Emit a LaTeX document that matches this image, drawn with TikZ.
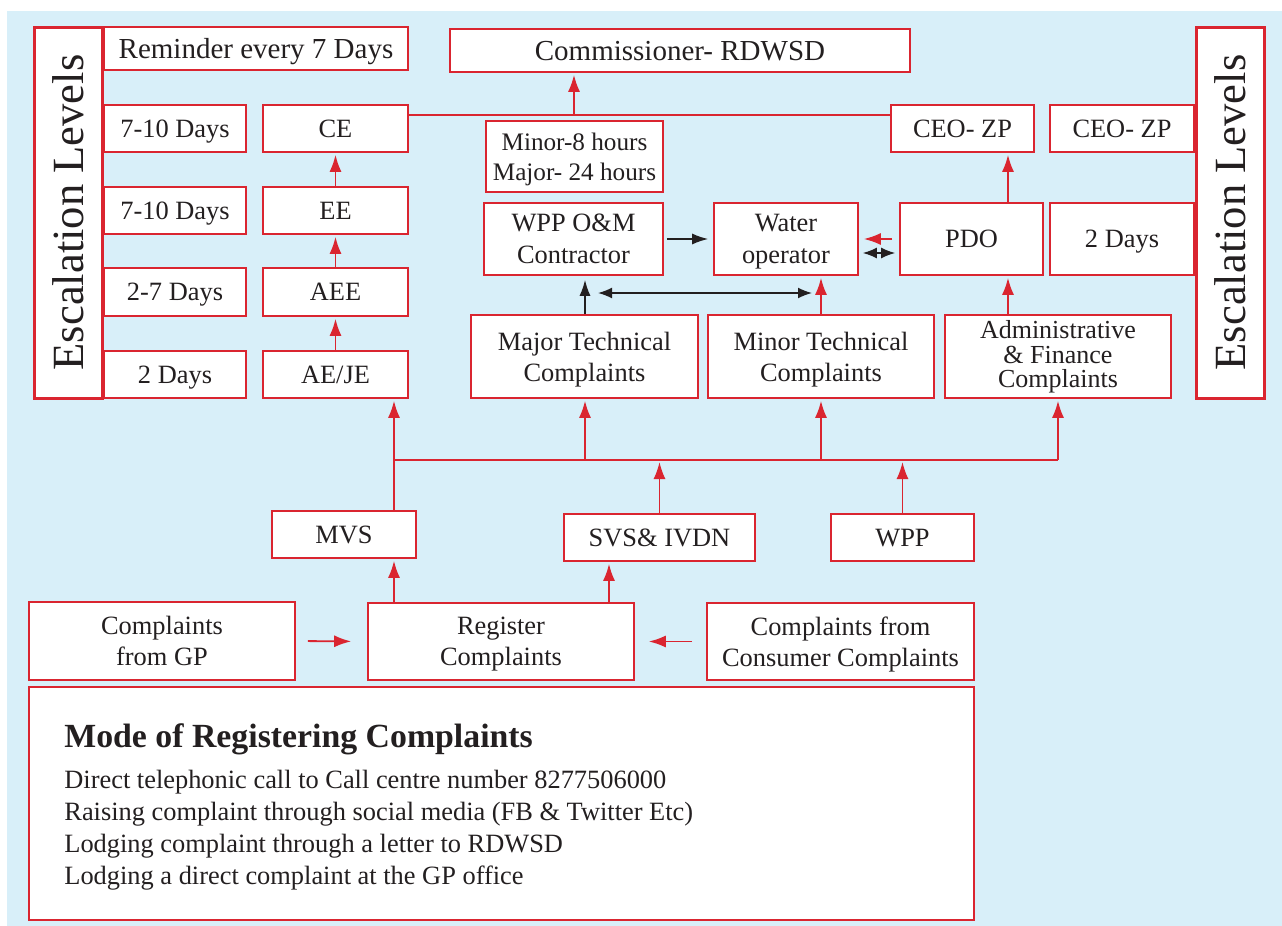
\documentclass[tikz,border=0pt]{standalone}
\usepackage{fontspec}
\setmainfont{Liberation Serif}
\usetikzlibrary{arrows.meta,calc}
\definecolor{bgblue}{RGB}{216,239,249}
\definecolor{bred}{RGB}{218,37,48}
\definecolor{ink}{RGB}{35,31,32}
\tikzset{
  boxst/.style={draw=bred,fill=white,line width=0.8pt,inner sep=0pt,align=center,text=ink,
    text depth=0pt,font=\fontsize{13.2}{15.5}\selectfont},
  escbox/.style={boxst,line width=1.5pt,rotate=90,font=\fontsize{22.3}{26}\selectfont},
  rl/.style={draw=bred,line width=0.9pt},
  ra/.style={rl,-{Latex[length=8.5pt,width=6pt]},shorten >=1pt},
  ka/.style={draw=ink,line width=0.8pt,-{Latex[length=8pt,width=5.5pt]}},
  kd/.style={draw=ink,line width=0.8pt,{Latex[length=7pt,width=5.5pt]}-{Latex[length=7pt,width=5.5pt]}},
  modetxt/.style={anchor=base west,inner sep=0pt,text=ink,font=\fontsize{13.2}{16}\selectfont},
}
% box from corner (x1,y1) to (x2,y2), given in pixel units
\newcommand\pbox[7][]{%
  \node[boxst,#1,minimum width={(#5-#3)*0.5pt},minimum height={(#6-#4)*0.5pt}]
    (#2) at ({(#3+#5)/2},{(#4+#6)/2}) {#7};}
\begin{document}
\begin{tikzpicture}[x=0.5pt,y=-0.5pt]
\useasboundingbox (0,0) rectangle (1282,926);
\fill[bgblue] (7,11) rectangle (1282,926);

% side labels
\node[escbox,minimum width=185.5pt,minimum height=34pt] (escL) at (68,212.5) {Escalation Levels};
\node[escbox,minimum width=185.5pt,minimum height=34pt] (escR) at (1230,212.5) {Escalation Levels};

% left column
\pbox[font=\fontsize{14.5}{17}\selectfont]{rem}{104}{27}{408}{70}{Reminder every 7 Days}
\pbox{d1}{104}{105}{246}{152}{7-10 Days}
\pbox{d2}{104}{187}{246}{234}{7-10 Days}
\pbox{d3}{104}{268}{246}{316}{2-7 Days}
\pbox{d4}{104}{351}{246}{398}{2 Days}
\pbox{ce}{263}{105}{408}{152}{CE}
\pbox{ee}{263}{187}{408}{234}{EE}
\pbox{aee}{263}{268}{408}{316}{AEE}
\pbox{aeje}{263}{351}{408}{398}{AE/JE}

% top row
\pbox[font=\fontsize{14.5}{17}\selectfont]{comm}{450}{29}{910}{72}{Commissioner- RDWSD}
\pbox[font=\fontsize{12.6}{15}\selectfont]{hrs}{486}{121}{663}{192}{Minor-8 hours\\Major- 24 hours}
\pbox{ceo1}{891}{105}{1034}{152}{CEO- ZP}
\pbox{ceo2}{1050}{105}{1194}{152}{CEO- ZP}

% operators
\pbox[font=\fontsize{13.2}{16}\selectfont]{wppom}{484}{203}{663}{275}{WPP O\&M\\Contractor}
\pbox[font=\fontsize{13.2}{16}\selectfont]{water}{714}{203}{858}{275}{Water\\operator}
\pbox{pdo}{900}{203}{1043}{275}{PDO}
\pbox{days2}{1050}{203}{1194}{275}{2 Days}

% complaint types
\pbox{major}{471}{315}{698}{398}{Major Technical\\Complaints}
\pbox{minor}{708}{315}{934}{398}{Minor Technical\\Complaints}
\pbox[font=\fontsize{13}{12.3}\selectfont,text depth=2.5pt]{admin}{945}{315}{1171}{398}{Administrative\\\& Finance\\Complaints}

% sources
\pbox{mvs}{272}{511}{416}{558}{MVS}
\pbox{svs}{564}{514}{755}{561}{SVS\& IVDN}
\pbox{wpp}{831}{514}{974}{561}{WPP}
\pbox{gp}{29}{602}{295}{680}{Complaints\\from GP}
\pbox{reg}{368}{603}{634}{680}{Register\\Complaints}
\pbox{cons}{707}{603}{974}{680}{Complaints from\\Consumer Complaints}
\pbox{mode}{29}{687}{974}{920}{}

% registering modes
\node[modetxt,font=\fontsize{16.9}{20}\selectfont\bfseries] (m0) at (64,747) {Mode of Registering Complaints};
\node[modetxt] (m1) at (64,788) {Direct telephonic call to Call centre number 8277506000};
\node[modetxt] (m2) at (64,820) {Raising complaint through social media (FB \& Twitter Etc)};
\node[modetxt] (m3) at (64,852) {Lodging complaint through a letter to RDWSD};
\node[modetxt] (m4) at (64,884) {Lodging a direct complaint at the GP office};

% helper coordinates
\coordinate (y115) at (0,115);
\coordinate (cj) at (574,115);
\coordinate (x1008) at (1008,0);
\coordinate (x821) at (821,0);
\coordinate (x585) at (585,0);
\coordinate (x609) at (609,0);
\coordinate (b1) at (394,460);
\coordinate (bM) at (585,460);
\coordinate (bN) at (821,460);
\coordinate (b2) at (1058,460);
\coordinate (dl) at (598,293);
\coordinate (dr) at (812,293);

% escalation chain
\draw[ra] (aeje.north) -- (aee.south);
\draw[ra] (aee.north) -- (ee.south);
\draw[ra] (ee.north) -- (ce.south);
\draw[rl] (ce.east |- y115) -- (ceo1.west |- y115);
\draw[ra] (cj) -- (cj |- comm.south);
\draw[ra] (pdo.north -| x1008) -- (ceo1.south -| x1008);
\draw[ra] (admin.north -| x1008) -- (pdo.south -| x1008);
\draw[ra] (minor.north -| x821) -- (water.south -| x821);

% operator links
\draw[ka,shorten <=1.5pt,shorten >=2.5pt] (wppom.east) -- (water.west);
\draw[ra,shorten <=3.5pt,shorten >=2.5pt] (pdo.west) -- (water.east);
\draw[kd,shorten <=2pt,shorten >=2pt] ([yshift=-7pt]pdo.west) -- ([yshift=-7pt]water.east);
\draw[ka,shorten >=2pt] (major.north -| x585) -- (wppom.south -| x585);
\draw[kd] (dl) -- (dr);

% distribution bus
\draw[rl] (b1) -- (b2);
\draw[ra] (mvs.north -| b1) -- (aeje.south -| b1);
\draw[ra] (bM) -- (major.south -| bM);
\draw[ra] (bN) -- (minor.south -| bN);
\draw[ra] (b2) -- (admin.south -| b2);
\draw[ra] (svs.north) -- (svs.north |- b1);
\draw[ra] (wpp.north) -- (wpp.north |- b1);

% registration
\draw[ra] (reg.north -| b1) -- (mvs.south -| b1);
\draw[ra] (reg.north -| x609) -- (svs.south -| x609);
\draw[ra,shorten <=6pt,shorten >=8pt] (gp.east) -- (reg.west);
\draw[ra,shorten <=7pt,shorten >=7pt] (cons.west) -- (reg.east);
\end{tikzpicture}
\end{document}
